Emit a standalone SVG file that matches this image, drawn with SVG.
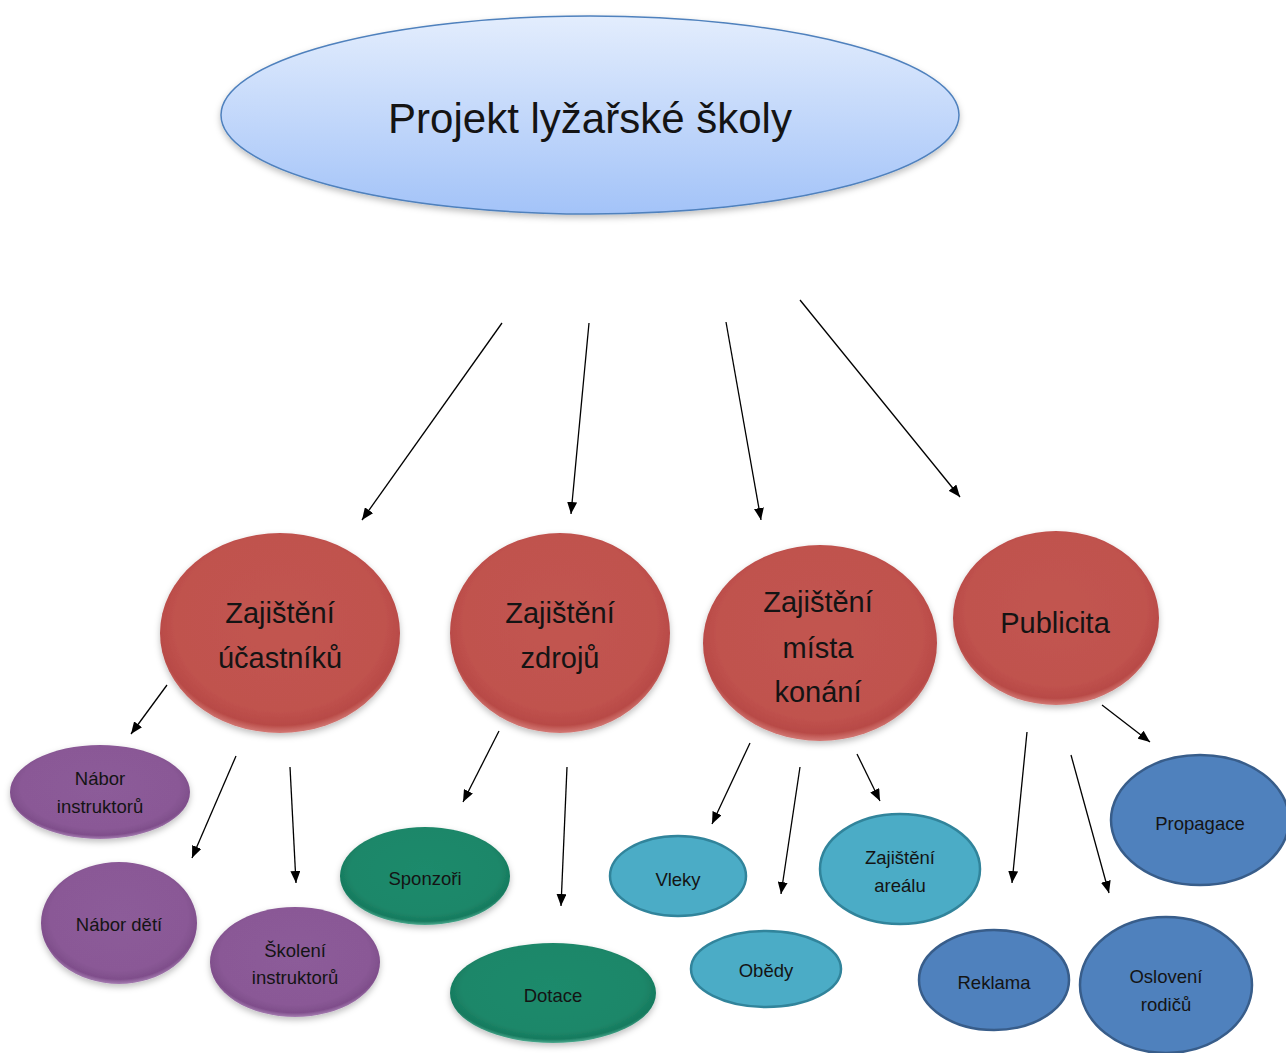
<svg xmlns="http://www.w3.org/2000/svg" width="1286" height="1053" viewBox="0 0 1286 1053">
<defs>
<linearGradient id="gTop" x1="0" y1="0" x2="0" y2="1">
<stop offset="0" stop-color="#e3edfd"/>
<stop offset="1" stop-color="#a3c3f8"/>
</linearGradient>
<radialGradient id="gRed" cx="0.5" cy="0.45" r="0.55">
<stop offset="0" stop-color="#c25550"/>
<stop offset="0.8" stop-color="#c0524e"/>
<stop offset="0.93" stop-color="#b84a46"/>
<stop offset="1" stop-color="#d47a76"/>
</radialGradient>
<radialGradient id="gPurple" cx="0.5" cy="0.45" r="0.55">
<stop offset="0" stop-color="#8c5b99"/>
<stop offset="0.8" stop-color="#8a5996"/>
<stop offset="0.93" stop-color="#7f4e8b"/>
<stop offset="1" stop-color="#a77fb3"/>
</radialGradient>
<radialGradient id="gGreen" cx="0.5" cy="0.45" r="0.55">
<stop offset="0" stop-color="#1f8a6c"/>
<stop offset="0.8" stop-color="#1d8769"/>
<stop offset="0.93" stop-color="#167a5e"/>
<stop offset="1" stop-color="#4eab90"/>
</radialGradient>
<filter id="sh" x="-10%" y="-10%" width="120%" height="125%">
<feDropShadow dx="0" dy="3" stdDeviation="3" flood-color="#000" flood-opacity="0.25"/>
</filter>
<marker id="ah" viewBox="0 0 12 10" refX="12" refY="5" markerWidth="12" markerHeight="10" markerUnits="userSpaceOnUse" orient="auto">
<path d="M0,0 L12,5 L0,10 z" fill="#000"/>
</marker>
<style>
.t{font-family:"Liberation Sans",Arial,sans-serif;fill:#141414;text-anchor:middle}
.big{font-size:29px}
.sm{font-size:18.5px}
.top{font-size:42px}
.red{fill:url(#gRed);filter:url(#sh)}
.pur{fill:url(#gPurple);filter:url(#sh)}
.grn{fill:url(#gGreen);filter:url(#sh)}
.teal{fill:#4bacc6;stroke:#31849b;stroke-width:2.5}
.blue{fill:#4f81bd;stroke:#385d8a;stroke-width:2.5}
.c{stroke:#000;stroke-width:1.3;fill:none;marker-end:url(#ah)}
</style>
</defs>
<rect width="1286" height="1053" fill="#fff"/>

<g id="root">
<ellipse cx="590" cy="115" rx="369" ry="99" fill="url(#gTop)" stroke="#4f81bd" stroke-width="1.5" filter="url(#sh)"/>
<text class="t top" x="590" y="133">Projekt lyžařské školy</text>
</g>

<g id="ucastniku">
<ellipse class="red" cx="280" cy="633" rx="120" ry="100"/>
<text class="t big" x="280" y="623">Zajištění</text>
<text class="t big" x="280" y="668">účastníků</text>
</g>
<g id="zdroju">
<ellipse class="red" cx="560" cy="633" rx="110" ry="100"/>
<text class="t big" x="560" y="623">Zajištění</text>
<text class="t big" x="560" y="668">zdrojů</text>
</g>
<g id="mista">
<ellipse class="red" cx="820" cy="643" rx="117" ry="98"/>
<text class="t big" x="818" y="612">Zajištění</text>
<text class="t big" x="818" y="658">místa</text>
<text class="t big" x="818" y="702">konání</text>
</g>
<g id="publicita">
<ellipse class="red" cx="1056" cy="618" rx="103" ry="87"/>
<text class="t big" x="1055" y="633">Publicita</text>
</g>

<g id="nabor-instruktoru">
<ellipse class="pur" cx="100" cy="792" rx="90" ry="47"/>
<text class="t sm" x="100" y="785">Nábor</text>
<text class="t sm" x="100" y="813">instruktorů</text>
</g>
<g id="nabor-deti">
<ellipse class="pur" cx="119" cy="923" rx="78" ry="61"/>
<text class="t sm" x="119" y="931">Nábor dětí</text>
</g>
<g id="skoleni">
<ellipse class="pur" cx="295" cy="962" rx="85" ry="55"/>
<text class="t sm" x="295" y="957">Školení</text>
<text class="t sm" x="295" y="984">instruktorů</text>
</g>

<g id="sponzori">
<ellipse class="grn" cx="425" cy="876" rx="85" ry="49"/>
<text class="t sm" x="425" y="885">Sponzoři</text>
</g>
<g id="dotace">
<ellipse class="grn" cx="553" cy="993" rx="103" ry="50"/>
<text class="t sm" x="553" y="1002">Dotace</text>
</g>

<g id="vleky">
<ellipse class="teal" cx="678" cy="876" rx="68" ry="40"/>
<text class="t sm" x="678" y="886">Vleky</text>
</g>
<g id="obedy">
<ellipse class="teal" cx="766" cy="969" rx="75" ry="38"/>
<text class="t sm" x="766" y="977">Obědy</text>
</g>
<g id="arealu">
<ellipse class="teal" cx="900" cy="869" rx="80" ry="55"/>
<text class="t sm" x="900" y="864">Zajištění</text>
<text class="t sm" x="900" y="892">areálu</text>
</g>

<g id="propagace">
<ellipse class="blue" cx="1200" cy="820" rx="89" ry="65"/>
<text class="t sm" x="1200" y="830">Propagace</text>
</g>
<g id="reklama">
<ellipse class="blue" cx="994" cy="980" rx="75" ry="50"/>
<text class="t sm" x="994" y="989">Reklama</text>
</g>
<g id="osloveni">
<ellipse class="blue" cx="1166" cy="985" rx="86" ry="68"/>
<text class="t sm" x="1166" y="983">Oslovení</text>
<text class="t sm" x="1166" y="1011">rodičů</text>
</g>

<g id="connectors">
<line class="c" x1="502" y1="323" x2="362" y2="520"/>
<line class="c" x1="589" y1="323" x2="571" y2="514"/>
<line class="c" x1="726" y1="322" x2="761" y2="520"/>
<line class="c" x1="800" y1="300" x2="960" y2="497"/>
<line class="c" x1="167" y1="685" x2="131" y2="734"/>
<line class="c" x1="236" y1="756" x2="192" y2="858"/>
<line class="c" x1="290" y1="767" x2="296" y2="883"/>
<line class="c" x1="499" y1="731" x2="463" y2="802"/>
<line class="c" x1="567" y1="767" x2="561" y2="906"/>
<line class="c" x1="750" y1="743" x2="712" y2="824"/>
<line class="c" x1="800" y1="767" x2="781" y2="894"/>
<line class="c" x1="857" y1="754" x2="880" y2="801"/>
<line class="c" x1="1102" y1="705" x2="1150" y2="742"/>
<line class="c" x1="1027" y1="732" x2="1012" y2="883"/>
<line class="c" x1="1071" y1="755" x2="1109" y2="893"/>
</g>
</svg>
